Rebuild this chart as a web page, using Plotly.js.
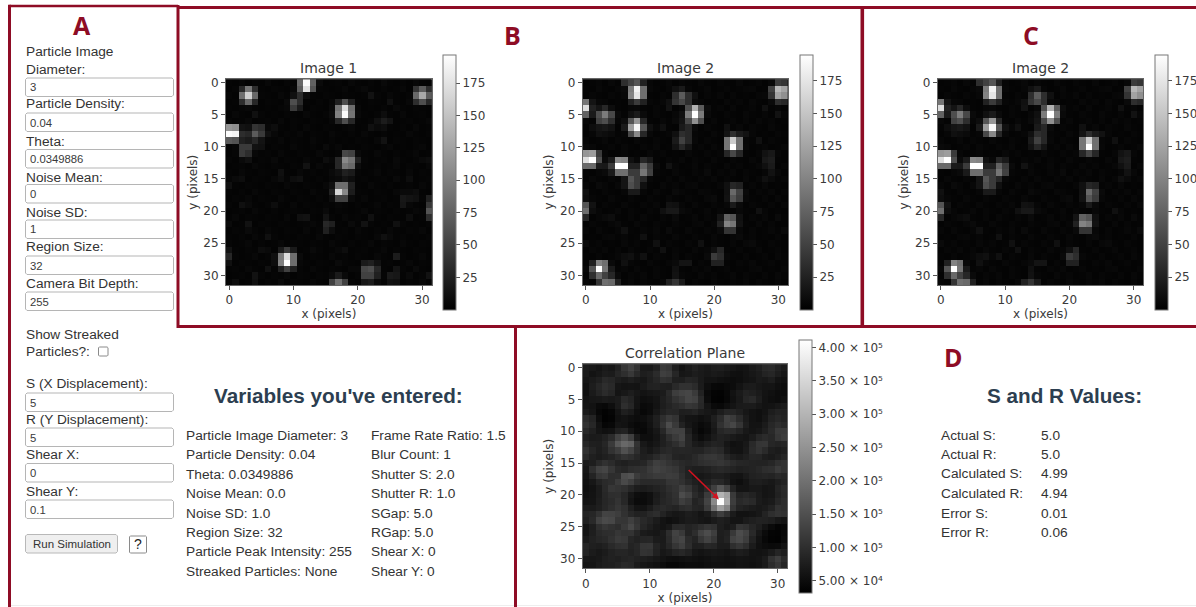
<!DOCTYPE html>
<html>
<head>
<meta charset="utf-8">
<script src="https://cdn.plot.ly/plotly-3.0.1.min.js"></script>
<style>
html,body{margin:0;padding:0;background:#fff;overflow:hidden}
#chart{width:1196px;height:607px;overflow:hidden}
.heatmaplayer image{filter:blur(0.55px)}
</style>
</head>
<body>
<div id="chart"></div>
<script>
const image1 = [
[4,3,5,2,4,3,6,3, 2,5,4,80,195,75,8,3, 4,5,3,6,4,3,5,3, 7,4,3,5,3,6,4,3],
[3,5,30,90,35,4,3,5, 4,3,6,70,175,65,5,4, 3,4,6,3,5,7,4,3, 5,3,4,6,3,40,70,35],
[5,3,85,160,80,5,4,3, 6,4,12,35,10,4,3,5, 4,3,5,4,3,4,14,5, 3,6,4,3,5,80,130,70],
[3,4,35,80,30,3,5,4, 3,8,60,35,4,3,5,3, 6,25,60,25,4,3,5,4, 3,12,4,3,6,35,60,30],
[4,3,5,6,4,3,4,3, 5,6,45,20,3,5,4,3, 8,90,170,85,6,3,4,3, 5,3,7,4,3,5,4,3],
[3,6,4,3,12,5,3,4, 3,5,4,3,6,4,3,5, 9,100,195,90,7,4,3,5, 10,4,3,6,3,4,5,3],
[5,3,4,6,3,4,5,3, 6,3,5,4,3,5,4,3, 6,30,60,30,4,3,5,12, 22,15,3,4,5,3,4,6],
[115,110,15,12,40,35,6,10, 4,3,5,3,6,4,3,5, 4,3,5,6,3,4,12,8, 10,4,3,5,3,6,3,4],
[195,190,35,30,70,45,12,6, 3,5,4,6,3,5,4,3, 6,4,3,5,3,6,4,3, 5,3,4,3,6,4,3,5],
[70,65,25,20,30,15,5,4, 6,3,5,4,3,6,4,3, 5,3,4,3,5,4,3,6, 14,3,5,4,3,5,4,3],
[4,6,45,45,14,12,3,5, 4,3,6,4,3,5,3,8, 4,6,3,4,3,5,4,3, 5,6,3,4,3,5,6,3],
[3,5,45,35,6,4,5,3, 6,4,3,5,4,3,6,4, 3,5,55,50,8,4,3,6, 4,3,5,3,4,6,3,4],
[5,3,8,12,3,5,4,7, 3,5,4,3,6,4,3,10, 6,30,105,90,25,5,3,4, 5,3,7,4,3,5,8,10],
[3,4,5,3,6,4,3,5, 4,3,5,4,14,3,6,4, 5,30,90,80,10,4,3,5, 3,4,6,3,5,4,3,6],
[4,3,6,4,3,5,4,3, 12,4,3,6,4,5,3,4, 8,12,25,20,5,3,4,6, 3,5,4,3,6,3,5,4],
[5,8,10,3,5,4,3,6, 10,5,10,12,4,3,5,3, 6,8,15,10,4,5,3,4, 5,3,7,4,10,3,4,5],
[12,4,3,5,4,3,5,4, 3,6,4,3,5,4,3,6, 12,85,85,25,4,3,6,4, 3,5,3,4,5,3,6,4],
[4,3,5,3,6,4,3,5, 4,3,5,4,3,6,4,4, 25,165,105,22,5,4,3,5, 4,3,6,8,8,10,4,3],
[3,5,4,6,3,5,4,3, 6,4,3,5,4,3,5,3, 10,50,50,8,4,6,3,4, 5,3,4,18,15,12,5,25],
[5,3,12,8,4,3,5,10, 4,3,6,3,5,4,3,5, 4,6,5,3,5,3,4,6, 3,5,4,16,6,4,3,42],
[3,4,5,3,6,4,3,5, 3,4,5,4,3,5,4,8, 3,5,4,3,4,6,3,5, 4,3,5,3,4,6,5,65],
[4,6,3,5,4,3,5,4, 3,6,3,12,14,4,3,15, 5,3,6,4,5,3,12,4, 3,5,4,3,10,3,4,35],
[8,3,4,14,3,5,4,3, 5,4,3,4,5,6,4,30, 25,4,3,8,4,14,5,3, 4,3,12,5,3,4,3,5],
[3,5,4,8,5,3,6,4, 3,5,4,3,6,3,5,25, 10,4,5,3,6,4,3,5, 3,6,4,3,5,4,6,3],
[4,3,5,3,6,4,12,5, 3,4,3,5,4,3,6,4, 3,5,4,3,5,4,3,6, 12,8,4,5,3,4,3,5],
[5,3,4,6,3,5,3,4, 6,3,5,4,3,5,4,3, 6,4,3,5,3,4,6,3, 5,4,3,6,4,3,5,4],
[15,4,3,5,4,10,8,3, 20,45,20,3,4,8,5,3, 4,6,10,3,4,5,3,4, 6,3,5,4,3,5,4,3],
[30,5,3,4,6,3,5,12, 95,170,85,8,3,5,4,3, 6,4,5,3,5,4,3,6, 4,3,22,5,3,4,6,3],
[12,3,5,4,3,5,4,10, 100,200,85,6,4,3,5,4, 3,8,5,4,3,20,25,14, 4,5,3,4,6,3,5,4],
[4,5,3,6,4,3,12,4, 25,50,25,5,3,6,4,3, 5,4,3,6,6,55,60,30, 4,3,15,5,3,8,4,3],
[3,4,5,3,14,5,3,5, 4,6,3,5,4,3,5,4, 8,20,8,3,5,50,50,25, 5,20,18,4,8,3,5,14],
[5,10,3,4,12,3,5,4, 8,3,5,4,3,6,4,3, 50,85,50,5,3,18,22,8, 4,14,12,3,5,4,6,3]
];

const image2 = [
[3,4,5,3,6,4,35,50, 65,25,5,3,4,6,3,5, 4,3,6,4,3,5,4,3, 6,3,4,5,3,6,45,40],
[4,3,6,4,3,5,8,95, 185,85,6,4,3,5,12,20, 5,3,4,6,3,4,5,3, 4,5,6,3,4,50,140,125],
[3,5,4,3,5,4,6,100, 175,85,4,3,5,4,35,70, 35,12,3,5,4,6,3,5, 3,4,3,5,6,40,125,110],
[90,15,6,5,3,4,3,25, 45,25,5,4,6,12,40,55, 35,8,5,3,4,3,6,4, 5,3,6,4,3,8,35,30],
[170,25,15,30,10,4,3,5, 6,4,3,5,4,14,3,6, 60,135,70,10,4,5,3,6, 3,4,5,3,12,4,5,3],
[75,20,60,95,55,8,4,12, 20,8,3,5,4,3,6,12, 95,200,95,8,4,3,5,4, 3,6,4,3,5,3,14,5],
[6,4,50,60,35,5,10,65, 115,30,4,3,6,4,8,15, 55,110,60,4,6,3,4,5, 3,5,3,6,4,5,3,4],
[4,10,15,18,14,3,20,120, 190,65,12,5,12,4,3,20, 30,8,3,5,4,3,12,4, 6,3,5,4,3,6,4,3],
[3,5,12,10,8,4,5,55, 105,30,6,3,4,5,12,35, 30,5,4,3,6,4,15,35, 20,14,5,3,4,3,5,4],
[5,3,4,6,3,5,4,3, 6,4,3,5,4,3,20,50, 30,6,3,5,4,3,90,155, 85,5,4,12,3,5,4,3],
[8,6,3,4,5,3,6,4, 3,5,4,6,3,4,14,30, 15,4,5,3,6,4,90,195, 85,6,3,4,5,3,4,6],
[115,120,45,5,3,4,5,3, 4,3,6,4,5,3,4,3, 6,4,3,5,4,5,30,55, 30,4,3,5,14,18,5,3],
[170,200,60,8,20,105,100,12, 6,30,20,4,3,5,4,6, 3,5,4,3,6,4,3,5, 4,3,6,4,18,22,4,3],
[80,80,20,18,45,195,195,25, 25,75,45,8,3,14,5,3, 4,6,3,5,4,3,6,4, 5,3,4,6,12,20,3,5],
[4,3,5,8,20,85,85,45, 45,90,50,5,4,3,6,4, 3,5,4,8,3,5,4,6, 3,5,4,3,5,14,6,3],
[3,6,4,3,5,4,15,65, 45,30,6,4,3,5,3,6, 4,3,5,4,6,3,5,4, 3,6,3,5,12,8,4,5],
[5,3,8,5,3,6,15,60, 45,12,4,3,6,4,5,3, 5,6,3,4,3,5,12,30, 25,4,5,3,6,3,4,3],
[12,4,3,5,4,3,5,20, 20,5,3,6,4,3,8,5, 4,3,6,5,4,3,12,80, 50,8,3,5,4,6,3,5],
[10,5,4,3,6,4,3,5, 4,3,5,4,3,6,4,3, 5,4,3,6,8,3,14,65, 45,6,4,3,5,3,6,4],
[65,14,3,5,4,3,6,4, 3,5,4,6,3,14,12,5, 3,6,4,3,5,4,6,20, 8,3,5,4,3,5,3,6],
[85,10,5,3,4,6,3,5, 4,3,5,4,12,18,18,8, 5,3,4,6,3,5,4,3, 6,4,3,12,5,3,4,3],
[30,3,5,8,10,4,3,5, 3,6,4,3,5,4,8,3, 4,6,3,5,4,15,75,65, 12,3,5,4,6,3,8,4],
[3,5,4,3,5,8,4,3, 6,4,3,5,4,3,5,4, 3,5,6,3,5,25,100,90, 14,4,3,6,3,5,3,4],
[5,3,6,4,3,5,12,4, 3,5,4,6,3,8,4,3, 6,4,3,5,4,8,40,40, 6,3,5,3,4,6,4,8],
[3,4,3,5,6,4,5,3, 4,12,3,5,4,3,6,4, 3,5,4,3,6,4,3,6, 8,4,5,3,4,3,5,3],
[8,4,5,3,4,3,6,4, 5,3,4,12,3,5,4,3, 5,4,12,3,5,4,3,5, 3,6,8,4,3,5,4,3],
[3,5,4,6,3,5,3,6, 4,3,5,4,12,3,5,4, 3,6,4,5,12,30,4,3, 5,3,4,6,3,4,5,3],
[4,3,5,3,4,6,10,12, 5,12,3,5,4,3,6,3, 5,4,3,8,45,35,6,4, 3,5,3,4,5,3,6,4],
[3,25,100,85,8,3,12,5, 4,3,6,4,3,5,8,15, 15,3,5,4,25,25,4,3, 5,4,6,3,4,5,3,4],
[5,65,200,90,20,4,5,3, 6,4,3,5,4,3,12,4, 3,5,4,6,3,4,5,3, 4,3,5,6,3,4,3,5],
[3,35,80,50,30,8,3,5, 4,6,3,5,4,3,14,5, 4,3,6,4,5,3,4,6, 3,5,4,3,5,3,6,4],
[5,4,40,85,80,25,4,6, 3,5,4,3,6,25,40,20, 3,5,4,3,6,4,3,5, 4,6,3,5,4,3,5,3]
];

// correlation plane, in thousands
const corrPlane = [
[72,68,62,70,66,82,112,130, 108,72,70,84,118,112,78,60, 70,80,72,68,74,76,70,64, 58,62,70,78,92,96,82,72],
[70,60,66,74,72,88,100,115, 92,76,80,95,125,120,88,64, 68,74,70,66,70,68,62,56, 54,60,66,72,84,88,74,64],
[64,70,78,92,88,76,70,78, 70,66,78,88,105,100,78,76, 86,84,70,60,60,56,52,50, 52,58,62,70,68,74,60,56],
[58,74,88,100,92,64,60,62, 60,70,80,82,78,76,92,105, 104,96,72,52,44,42,46,50, 60,70,72,66,62,62,54,50],
[54,70,84,95,86,62,68,74, 66,60,64,68,72,92,122,132, 136,118,82,46,38,36,44,58, 70,82,78,70,60,56,50,48],
[60,64,66,70,68,72,92,84, 62,52,56,62,76,88,106,118, 135,128,92,50,36,34,42,56, 68,86,92,74,58,52,50,54],
[62,58,46,44,52,70,100,88, 60,46,50,60,74,84,92,100, 112,108,90,62,46,44,52,62, 70,72,72,64,58,60,66,70],
[70,62,42,36,40,60,78,70, 52,44,50,66,80,90,88,76, 78,84,72,66,62,74,86,86, 78,66,58,54,60,74,82,80],
[96,84,50,34,38,56,60,54, 50,52,62,78,100,118,108,70, 62,60,54,60,76,96,128,118, 96,72,58,54,64,82,90,84],
[104,90,58,40,44,62,58,50, 44,46,58,76,108,145,116,82, 64,56,46,52,72,104,125,136, 110,76,60,60,72,90,100,92],
[90,78,62,56,58,78,82,62, 46,44,54,66,90,125,130,128, 78,54,42,50,66,88,96,94, 82,68,62,66,78,94,116,118],
[76,70,72,80,96,130,152,126, 72,52,52,62,78,100,118,132, 86,62,50,58,72,80,76,70, 64,62,72,88,96,90,112,122],
[88,78,76,88,118,162,186,176, 106,68,58,66,78,88,100,116, 88,72,66,76,84,80,64,56, 58,68,92,110,112,88,84,88],
[104,86,74,84,106,122,150,132, 100,74,66,76,88,92,86,88, 86,84,84,94,98,92,70,60, 58,70,96,108,94,76,72,78],
[92,78,72,78,84,96,108,100, 88,78,82,94,106,100,84,80, 84,92,104,112,114,106,88,76, 70,78,88,86,74,70,78,88],
[70,76,92,104,96,82,78,84, 84,88,106,124,118,108,100,92, 88,92,100,104,108,112,104,96, 88,86,84,82,82,88,102,108],
[64,102,128,134,112,92,88,98, 102,104,118,130,124,118,112,96, 80,76,76,80,88,92,88,84, 78,80,84,90,98,102,118,108],
[60,84,112,118,98,100,146,154, 120,108,112,118,118,122,120,102, 82,70,66,70,76,76,70,62, 60,70,80,84,86,84,92,88],
[56,66,84,94,98,118,140,126, 102,92,92,94,96,110,112,104, 90,78,72,78,92,90,76,58, 52,62,74,76,72,68,76,84],
[52,58,72,92,112,108,102,88, 74,72,76,82,88,100,108,126, 112,88,74,92,126,160,130,84, 62,62,68,68,62,64,84,94],
[56,60,72,90,100,102,88,66, 52,50,56,72,84,94,104,145, 130,96,82,120,170,300,270,118, 84,90,82,70,62,64,80,92],
[60,62,74,88,96,108,90,62, 48,48,56,74,86,92,102,124, 112,84,92,132,235,411,280,122, 92,98,92,72,66,70,88,98],
[72,70,78,90,100,112,102,78, 62,60,72,88,94,88,84,96, 100,86,84,120,200,270,230,110, 84,78,72,68,72,82,104,100],
[84,88,106,132,130,122,104,90, 80,82,92,98,84,70,64,68, 74,70,62,70,98,124,102,72, 58,58,62,68,84,100,108,104],
[78,92,128,142,138,112,110,126, 108,92,84,72,60,54,58,66, 72,70,64,62,70,78,72,62, 62,72,78,82,80,76,66,60],
[60,74,100,112,104,98,116,138, 112,88,76,66,60,68,92,94, 84,90,100,110,104,76,68,74, 110,104,88,76,60,46,38,42],
[62,76,92,98,100,112,106,108, 88,72,68,64,72,98,130,116, 84,98,130,145,124,76,80,115, 145,130,92,66,48,38,36,44],
[70,80,88,92,104,118,114,88, 80,86,88,72,70,94,125,135, 96,84,112,130,112,74,84,130, 140,122,82,58,44,36,34,46],
[86,78,74,80,92,102,104,84, 90,110,112,84,72,88,110,125, 98,76,78,90,86,72,72,100, 112,98,72,56,50,46,48,60],
[84,72,66,72,80,86,86,80, 88,108,104,80,66,72,84,90, 80,64,60,64,68,64,60,68, 74,70,60,58,62,72,86,78],
[66,64,68,76,80,78,84,86, 80,76,72,66,60,54,52,56, 58,56,52,56,60,58,56,58, 62,60,58,62,72,104,122,96],
[60,62,70,76,78,84,92,90, 72,64,60,56,50,42,42,46, 50,50,48,52,56,56,54,56, 60,58,56,60,70,96,112,86]
];

const xTicks = [0,10,20,30];
const yTicks = [0,5,10,15,20,25,30];
const imageBarTicks = [25,50,75,100,125,150,175];
const corrBarTicks = [50,100,150,200,250,300,350,400];
const corrBarLabels = ['5.00 × 10⁴','1.00 × 10⁵','1.50 × 10⁵','2.00 × 10⁵','2.50 × 10⁵','3.00 × 10⁵','3.50 × 10⁵','4.00 × 10⁵'];
const arrowFrom = [16,16];
const arrowTo = [20.8,20.7];

const inputLabels = ['Diameter:','Particle Density:','Theta:','Noise Mean:','Noise SD:','Region Size:','Camera Bit Depth:','S (X Displacement):','R (Y Displacement):','Shear X:','Shear Y:'];
const inputValues = ['3','0.04','0.0349886','0','1','32','255','5','5','0','0.1'];
const variablesLeft = ['Particle Image Diameter: 3','Particle Density: 0.04','Theta: 0.0349886','Noise Mean: 0.0','Noise SD: 1.0','Region Size: 32','Particle Peak Intensity: 255','Streaked Particles: None'];
const variablesRight = ['Frame Rate Ratio: 1.5','Blur Count: 1','Shutter S: 2.0','Shutter R: 1.0','SGap: 5.0','RGap: 5.0','Shear X: 0','Shear Y: 0'];
const resultNames = ['Actual S:','Actual R:','Calculated S:','Calculated R:','Error S:','Error R:'];
const resultValues = ['5.0','5.0','4.99','4.94','0.01','0.06'];

// The drawing surface is a little wider than the window, so the rightmost
// colour bar labels do not push the margins; the window crops the spare strip.
const W = 1240, H = 607, VISIBLE = 1196;
const px = v => v / W;
const py = v => 1 - v / H;
const RED = '#8e0c25';
const SANS = '"Liberation Sans", Arial, sans-serif';
const PLOTFONT = '"DejaVu Sans", sans-serif';
const INK = '#3a3a3a';
const gray = [[0,'#000000'],[1,'#ffffff']];

const panels = [
  {z:image1, name:'Image 1', x0:226, x1:431.7, y0:79.3, y1:285, bx:443.3, by0:54.7, by1:310, zmin:0, zmax:197, tv:imageBarTicks, tt:imageBarTicks.map(String)},
  {z:image2, name:'Image 2', x0:582.7, x1:788, y0:79.3, y1:285, bx:800, by0:54.7, by1:310, zmin:0, zmax:195, tv:imageBarTicks, tt:imageBarTicks.map(String)},
  {z:image2, name:'Image 2', x0:937.7, x1:1143.3, y0:79.3, y1:285, bx:1155, by0:54.7, by1:310, zmin:0, zmax:195, tv:imageBarTicks, tt:imageBarTicks.map(String)},
  {z:corrPlane, name:'Correlation Plane', x0:582.7, x1:787.3, y0:364.3, y1:568.3, bx:798.7, by0:340, by1:593.3, zmin:31.5, zmax:411.5, tv:corrBarTicks, tt:corrBarLabels}
];

const traces = [];
const layout = {
  width:W, height:H, autosize:false,
  margin:{l:0,r:0,t:0,b:0,pad:0},
  paper_bgcolor:'#fff', plot_bgcolor:'#000',
  font:{family:PLOTFONT,color:INK,size:12},
  showlegend:false, shapes:[], annotations:[]
};

panels.forEach((p,i)=>{
  const n = i+1, xn = 'xaxis'+(n>1?n:''), yn = 'yaxis'+(n>1?n:'');
  traces.push({
    type:'heatmap', z:p.z, xaxis:'x'+(n>1?n:''), yaxis:'y'+(n>1?n:''),
    colorscale:gray, zmin:p.zmin, zmax:p.zmax, zsmooth:false, hoverinfo:'skip',
    colorbar:{
      thickness:13.3, thicknessmode:'pixels', len:p.by1-p.by0, lenmode:'pixels',
      x:px(p.bx), xanchor:'left', xpad:0, y:py(p.by0), yanchor:'top', ypad:0,
      outlinewidth:1, outlinecolor:'#777', borderwidth:0,
      ticks:'outside', ticklen:4, tickwidth:1, tickcolor:'#555',
      tickvals:p.tv, ticktext:p.tt, tickfont:{family:PLOTFONT,size:12,color:INK}
    }
  });
  const common = {
    showgrid:false, zeroline:false, showline:true, mirror:true, linecolor:'#666', linewidth:1,
    ticks:'outside', ticklen:4, tickwidth:1, tickcolor:'#555',
    tickfont:{family:PLOTFONT,size:12,color:INK}, tickmode:'array'
  };
  layout[xn] = Object.assign({}, common, {
    domain:[px(p.x0),px(p.x1)], range:[-0.5,31.5], tickvals:xTicks, anchor:'y'+(n>1?n:''),
    title:{text:'x (pixels)',font:{family:PLOTFONT,size:12,color:INK},standoff:3}
  });
  layout[yn] = Object.assign({}, common, {
    domain:[py(p.y1),py(p.y0)], range:[31.5,-0.5], tickvals:yTicks, anchor:'x'+(n>1?n:''),
    title:{text:'y (pixels)',font:{family:PLOTFONT,size:12,color:INK},standoff:3}
  });
  layout.annotations.push({
    xref:'paper',yref:'paper',x:px((p.x0+p.x1)/2),y:py(p.y0-11.6),xanchor:'center',yanchor:'middle',
    text:p.name,showarrow:false,font:{family:PLOTFONT,size:14,color:INK}
  });
});

// displacement arrow on the correlation plane
layout.annotations.push({
  xref:'x4',yref:'y4',axref:'x4',ayref:'y4',x:arrowTo[0],y:arrowTo[1],ax:arrowFrom[0],ay:arrowFrom[1],
  text:' ',font:{size:1},borderpad:0,showarrow:true,arrowcolor:'#d4121f',arrowwidth:1.6,arrowhead:2,arrowsize:0.8,standoff:0,startstandoff:0
});

function label(x,y,text,opt){
  opt = opt||{};
  const shift = (opt.anchor||'left')==='left' ? 1 : 0;
  layout.annotations.push({
    xref:'paper',yref:'paper',x:px(x-shift),y:py(y),xanchor:opt.anchor||'left',yanchor:'middle',
    text:text,showarrow:false,borderpad:0,
    font:{family:opt.family||SANS,size:opt.size||13.7,color:opt.color||'#333',weight:opt.weight||400}
  });
}
function rbox(x0,y0,x1,y1,fill,line,w,r){
  r = r===undefined?1.5:r;
  layout.shapes.push({
    type:'path',xref:'paper',yref:'paper',
    path:'M'+[px(x0+r),py(y0)].join(',')+' L'+[px(x1-r),py(y0)].join(',')+' L'+[px(x1),py(y0+r)].join(',')+
         ' L'+[px(x1),py(y1-r)].join(',')+' L'+[px(x1-r),py(y1)].join(',')+' L'+[px(x0+r),py(y1)].join(',')+
         ' L'+[px(x0),py(y1-r)].join(',')+' L'+[px(x0),py(y0+r)].join(',')+' Z',
    fillcolor:fill,line:{color:line,width:w||1}
  });
}
function rule(x0,y0,x1,y1,w,c){
  layout.shapes.push({type:'line',xref:'paper',yref:'paper',x0:px(x0),y0:py(y0),x1:px(x1),y1:py(y1),line:{color:c||RED,width:w}});
}

// panel frames
rule(9.5,6,178,6,2.6);
rule(9.5,4.7,9.5,607,3);
rule(178,5,178,328,3);
rule(178,7.4,VISIBLE,7.4,3);
rule(862.3,7.4,862.3,328,3.6);
rule(178,326.6,VISIBLE,326.6,3);
rule(515.5,326.6,515.5,607,3);
rule(11,605.5,514,605.5,1,'#eeeeee');
rule(517,605.5,VISIBLE,605.5,1,'#eeeeee');

// panel letters
[['A',82,25],['B',512,35],['C',1031,35],['D',953,357]].forEach(a=>
  label(a[1],a[2],a[0],{anchor:'center',family:'"Open Sans", sans-serif',size:25,color:RED,weight:700}));

// parameter form
label(26,52,'Particle Image');
const labelY = [69.5,104,141,177,212,247,283,384,419,455,491];
const boxTop = [78,113,149.5,184.5,220,256,292,393,428,463.5,500];
inputLabels.forEach((t,i)=>{
  label(26,labelY[i],t);
  rbox(25.5,boxTop[i],173.5,boxTop[i]+18.5,'#ffffff','#b5b5b5',1);
  label(29.5,boxTop[i]+9.5,inputValues[i],{size:11.3,color:'#3a3a3a'});
});
label(26,334,'Show Streaked');
label(26,351,'Particles?:');
rbox(98.5,347,108,356,'#ffffff','#8a8a8a',1,0.8);
rbox(25.5,534.5,117.5,553,'#efefef','#b8b8b8',1);
label(71.5,544,'Run Simulation',{anchor:'center',size:11.5,color:'#333'});
rbox(129.5,536,146.5,553,'#ffffff','#8a8a8a',1,0.8);
label(138,544,'?',{anchor:'center',size:14,color:'#222'});

// entered variables
label(338.5,395,"Variables you've entered:",{anchor:'center',size:20.7,weight:700,color:'#2c3e50'});
const varY = [435,454.5,474,493.5,513,532.5,551.5,571];
variablesLeft.forEach((t,i)=>label(186,varY[i],t));
variablesRight.forEach((t,i)=>label(371,varY[i],t));

// results
label(1064,396,'S and R Values:',{anchor:'center',size:20.7,weight:700,color:'#2c3e50'});
const resY = [435,454,473.5,493,513,532];
resultNames.forEach((t,i)=>label(941,resY[i],t));
resultValues.forEach((t,i)=>label(1041,resY[i],t));

Plotly.newPlot('chart',traces,layout,{displayModeBar:false,responsive:false});
</script>
</body>
</html>
